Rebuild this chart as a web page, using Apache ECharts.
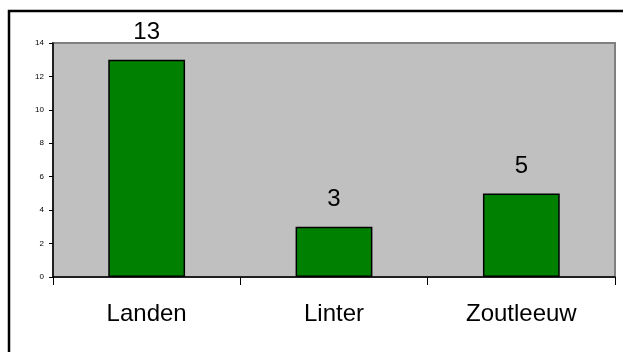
<!DOCTYPE html>
<html>
<head>
<meta charset="utf-8">
<script src="https://cdn.jsdelivr.net/npm/echarts@6/dist/echarts.min.js"></script>
<style>
  html, body { margin: 0; padding: 0; background: #ffffff; }
  #chart { width: 623px; height: 352px; }
</style>
</head>
<body>
<div id="chart"></div>
<script>
// Gemeenten en aantallen
const categories = ['Landen', 'Linter', 'Zoutleeuw'];
const values = [13, 3, 5];
const yTicks = { min: 0, max: 14, step: 2 };

const chart = echarts.init(document.getElementById('chart'), null, { renderer: 'canvas' });

chart.setOption({
  animation: false,
  backgroundColor: '#ffffff',
  textStyle: { fontFamily: 'Liberation Sans, Arial, sans-serif' },
  graphic: [{
    type: 'rect',
    silent: true,
    shape: { x: 9, y: 11, width: 700, height: 400 },
    style: { fill: 'none', stroke: '#000000', lineWidth: 2.5 },
    z: -1
  }],
  grid: {
    left: 53, top: 43, right: 8, bottom: 75,
    show: true,
    backgroundColor: '#C0C0C0',
    borderColor: '#808080',
    borderWidth: 2
  },
  xAxis: {
    type: 'category',
    data: categories,
    axisLine: { lineStyle: { color: '#000000', width: 1.5 } },
    axisTick: { show: true, length: 8, lineStyle: { color: '#000000', width: 1 } },
    axisLabel: { color: '#000000', fontSize: 24, margin: 25, fontFamily: 'Liberation Sans, Arial, sans-serif' },
    splitLine: { show: false }
  },
  yAxis: {
    type: 'value',
    min: yTicks.min, max: yTicks.max, interval: yTicks.step,
    axisLine: { show: true, lineStyle: { color: '#000000', width: 1.5 } },
    axisTick: { show: true, length: 4, lineStyle: { color: '#000000', width: 1 } },
    axisLabel: { color: '#000000', fontSize: 8, margin: 9, fontFamily: 'Liberation Sans, Arial, sans-serif' },
    splitLine: { show: false }
  },
  series: [{
    type: 'bar',
    data: values,
    barWidth: '41%',
    itemStyle: { color: '#008000', borderColor: '#000000', borderWidth: 1.5 },
    label: {
      show: true,
      position: 'top',
      distance: 15,
      color: '#000000',
      fontSize: 24,
      fontFamily: 'Liberation Sans, Arial, sans-serif'
    }
  }]
});
</script>
</body>
</html>
